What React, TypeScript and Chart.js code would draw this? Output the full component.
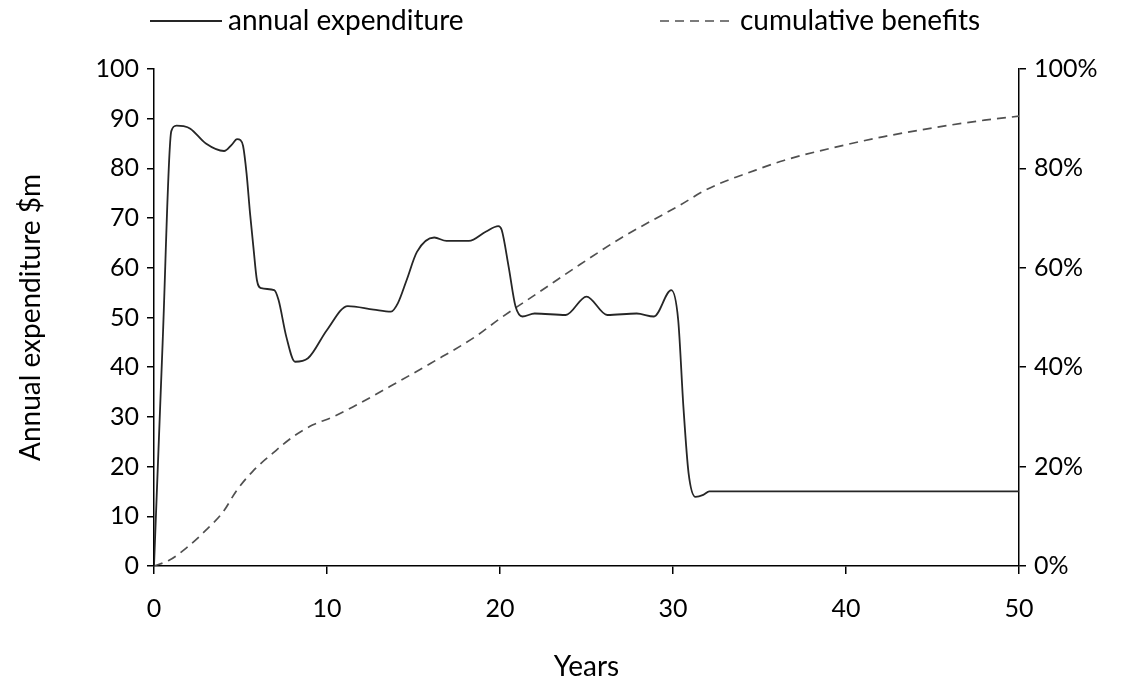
import React, { useEffect, useRef } from "react";
import { Chart, registerables } from "chart.js";

Chart.register(...registerables);

// ---- data ----
const seriesLabels = ["annual expenditure", "cumulative benefits"];
const xTickValues = [0, 10, 20, 30, 40, 50];

const expenditureYears = [
  0, 0.5, 1.0, 1.3, 1.7, 2.1, 3.0, 4.05, 4.5, 4.8,
  5.0, 5.15, 5.35, 5.55, 5.75, 5.95, 6.2, 6.95, 7.2, 7.65,
  8.15, 8.9, 10.0, 11.2, 12.7, 13.7, 14.1, 14.6, 15.2, 16.2,
  16.9, 18.2, 19.2, 19.9, 20.1, 20.5, 20.9, 21.3, 22.0, 23.8,
  25.0, 26.2, 27.9, 28.9, 29.9, 30.3, 30.6, 30.9, 31.3, 31.75,
  32.1, 50,
];
const expenditureValues = [
  0, 45, 87.5, 88.6, 88.5, 88.0, 85.0, 83.5, 84.8, 85.9,
  85.7, 84.5, 79, 71, 64, 57.5, 55.9, 55.5, 53.5, 46.1,
  41.1, 41.8, 47.5, 52.3, 51.6, 51.2, 52.9, 57.5, 63.2, 66.1,
  65.4, 65.4, 67.3, 68.4, 67.6, 60.2, 52.2, 50.2, 50.8, 50.5,
  54.2, 50.5, 50.8, 50.2, 55.5, 49.5, 32.1, 18.7, 13.9, 14.3,
  15.0, 15.0,
];

const benefitYears = [
  0, 0.9, 1.86, 3.0, 4.0, 4.76, 5.72, 6.87, 8.03, 9.19,
  10.35, 11.7, 13.63, 16.0, 18.6, 20.0, 22.3, 24.6, 27.0, 30.4,
  31.86, 33.3, 34.1, 36.4, 39.3, 42.2, 45.1, 48.0, 50,
];
const benefitValues = [
  0, 1.2, 3.6, 7.2, 10.9, 15.1, 19.1, 22.7, 26.0, 28.4,
  30.0, 32.4, 36.1, 40.8, 46.2, 49.8, 55.2, 60.6, 66.0, 72.6,
  75.6, 77.8, 78.8, 81.6, 84.2, 86.4, 88.2, 89.7, 90.5,
];

const FONT_FAMILY = "Lato, 'Liberation Sans', sans-serif";
const TICK_SIZE = 25;
const LABEL_SIZE = 28;
const TEXT_COLOR = "#000";

const legendPlugin = {
  id: "lineLegend",
  afterDraw(chart: any) {
    const ctx = chart.ctx as CanvasRenderingContext2D;
    const slots = [
      { x: 150, textX: 228 },
      { x: 660, textX: 740 },
    ];
    const y = 21;
    ctx.save();
    chart.data.datasets.forEach((ds: any, i: number) => {
      const s = slots[i];
      if (!s) return;
      ctx.beginPath();
      ctx.strokeStyle = ds.borderColor;
      ctx.lineWidth = ds.borderWidth;
      ctx.setLineDash(ds.borderDash || []);
      ctx.moveTo(s.x, y);
      ctx.lineTo(s.x + 72, y);
      ctx.stroke();
      ctx.setLineDash([]);
      ctx.fillStyle = TEXT_COLOR;
      ctx.font = `${LABEL_SIZE}px ${FONT_FAMILY}`;
      ctx.textBaseline = "middle";
      ctx.textAlign = "left";
      ctx.fillText(ds.label, s.textX, y);
    });
    ctx.restore();
  },
};

export default function App() {
  const canvasRef = useRef<HTMLCanvasElement | null>(null);

  useEffect(() => {
    if (!canvasRef.current) return;
    const tickFont = { family: FONT_FAMILY, size: TICK_SIZE };
    const titleFont = { family: FONT_FAMILY, size: LABEL_SIZE, lineHeight: 1 };
    const chart = new Chart(canvasRef.current, {
      type: "line",
      data: {
        datasets: [
          {
            label: seriesLabels[0],
            data: expenditureYears.map((x, i) => ({ x, y: expenditureValues[i] })),
            yAxisID: "y",
            borderColor: "#262626",
            borderWidth: 1.8,
            pointRadius: 0,
            fill: false,
            cubicInterpolationMode: "monotone",
          },
          {
            label: seriesLabels[1],
            data: benefitYears.map((x, i) => ({ x, y: benefitValues[i] })),
            yAxisID: "y2",
            borderColor: "#505050",
            borderWidth: 1.7,
            borderDash: [9, 6],
            pointRadius: 0,
            fill: false,
            cubicInterpolationMode: "monotone",
          },
        ],
      },
      options: {
        animation: false,
        responsive: true,
        maintainAspectRatio: false,
        layout: { padding: { top: 69, left: 0, right: 0, bottom: 0 } },
        plugins: {
          legend: { display: false },
          tooltip: { enabled: false },
        },
        scales: {
          x: {
            type: "linear",
            min: 0,
            max: 50,
            afterBuildTicks: (s: any) => {
              s.ticks = xTickValues.map((v) => ({ value: v }));
            },
            ticks: { font: tickFont, color: TEXT_COLOR, padding: 20, maxRotation: 0 },
            grid: { drawOnChartArea: false, drawTicks: true, tickLength: 8, color: "#000", lineWidth: 1.5 },
            border: { display: true, color: "#000", width: 1.5 },
            title: {
              display: true,
              text: "Years",
              font: titleFont,
              color: TEXT_COLOR,
              padding: { top: 0, bottom: 0 },
            },
            afterFit: (s: any) => {
              s.height = 115;
            },
          },
          y: {
            type: "linear",
            position: "left",
            min: 0,
            max: 100,
            ticks: { stepSize: 10, font: tickFont, color: TEXT_COLOR, padding: 8 },
            grid: { drawOnChartArea: false, drawTicks: true, tickLength: 7, color: "#000", lineWidth: 1.5 },
            border: { display: true, color: "#000", width: 1.5 },
            title: {
              display: true,
              text: "Annual expenditure $m",
              font: titleFont,
              color: TEXT_COLOR,
              padding: { top: 17, bottom: 0 },
            },
            afterFit: (s: any) => {
              s.width = 154;
            },
          },
          y2: {
            type: "linear",
            position: "right",
            min: 0,
            max: 100,
            ticks: {
              stepSize: 20,
              font: tickFont,
              color: TEXT_COLOR,
              padding: 8,
              callback: (v: any) => `${v}%`,
            },
            grid: { drawOnChartArea: false, drawTicks: true, tickLength: 7, color: "#000", lineWidth: 1.5 },
            border: { display: true, color: "#000", width: 1.5 },
            afterFit: (s: any) => {
              s.width = 105;
            },
          },
        },
      },
      plugins: [legendPlugin],
    });
    return () => chart.destroy();
  }, []);

  return (
    <div style={{ position: "fixed", left: 0, top: 0, width: 1124, height: 681, background: "#fff" }}>
      <canvas ref={canvasRef} />
    </div>
  );
}
